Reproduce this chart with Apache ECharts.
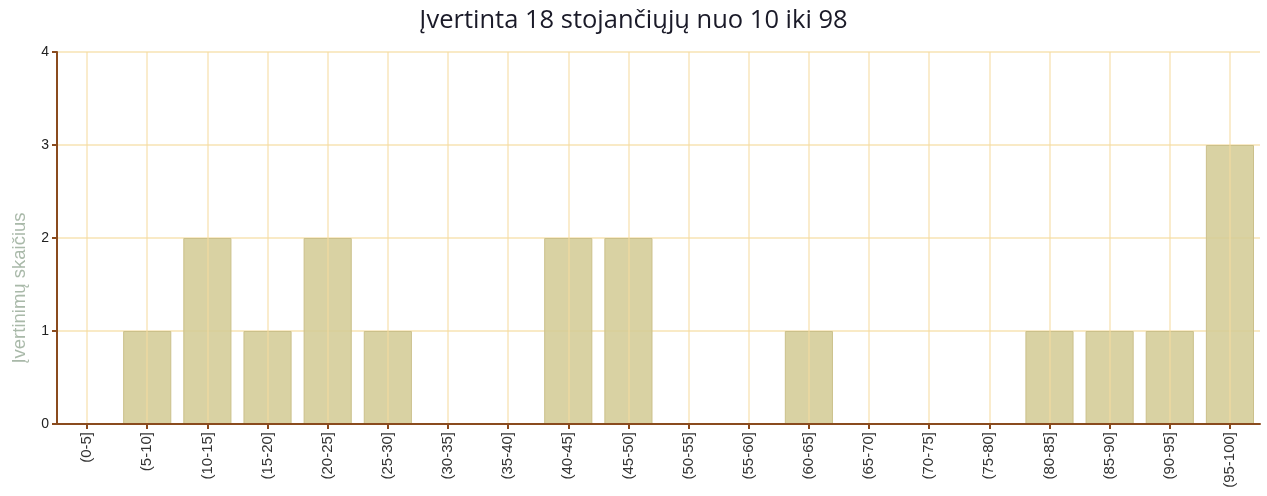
<!DOCTYPE html>
<html>
<head>
<meta charset="utf-8">
<script src="https://cdn.jsdelivr.net/npm/echarts@6/dist/echarts.min.js"></script>
<style>
  html, body { margin: 0; padding: 0; background: #fff; }
  #chart { width: 1267px; height: 496px; }
</style>
</head>
<body>
<div id="chart"></div>
<script>
const categories = ['(0-5]', '(5-10]', '(10-15]', '(15-20]', '(20-25]', '(25-30]', '(30-35]', '(35-40]',
  '(40-45]', '(45-50]', '(50-55]', '(55-60]', '(60-65]', '(65-70]', '(70-75]', '(75-80]',
  '(80-85]', '(85-90]', '(90-95]', '(95-100]'];
const counts = [0, 1, 2, 1, 2, 1, 0, 0, 2, 2, 0, 0, 1, 0, 0, 0, 1, 1, 1, 3];
const yTicks = [0, 1, 2, 3, 4];

const axisBrown = '#8a4b1e';
const gridYellow = '#f7e3b3';

const chart = echarts.init(document.getElementById('chart'));
chart.setOption({
  animation: false,
  title: {
    text: 'Įvertinta 18 stojančiųjų nuo 10 iki 98',
    left: 'center',
    top: 3,
    textStyle: { fontFamily: 'Open Sans', fontSize: 25.5, fontWeight: 'normal', color: '#1a1a28' }
  },
  grid: { left: 57, right: 7, top: 52, bottom: 72 },
  xAxis: {
    type: 'category',
    data: categories,
    z: 5,
    axisLine: { lineStyle: { color: axisBrown, width: 2 } },
    axisTick: { show: true, alignWithLabel: true, length: 5, lineStyle: { color: axisBrown, width: 2 } },
    // grid lines sit on the category centres, like the ticks
    splitLine: { show: true, alignWithLabel: true, lineStyle: { color: 'rgba(245,220,160,0.7)', width: 1.5 } },
    axisLabel: { rotate: 90, interval: 0, fontFamily: 'Liberation Sans', fontSize: 15, color: '#333', margin: 8 }
  },
  yAxis: {
    type: 'value',
    min: yTicks[0],
    max: yTicks[yTicks.length - 1],
    interval: 1,
    z: 1,
    name: 'Įvertinimų skaičius',
    nameLocation: 'middle',
    nameGap: 28,
    nameTextStyle: { fontFamily: 'Liberation Sans', fontSize: 18.5, color: '#a9b9a9', padding: [0, 100, 0, 0] },
    axisLine: { show: true, lineStyle: { color: axisBrown, width: 2 } },
    axisTick: { show: true, length: 5, lineStyle: { color: axisBrown, width: 2 } },
    splitLine: { lineStyle: { color: gridYellow, width: 1.5 } },
    axisLabel: { fontFamily: 'Liberation Sans', fontSize: 14, color: '#222', margin: 8 }
  },
  series: [{
    type: 'bar',
    data: counts,
    barCategoryGap: '20%',
    itemStyle: { color: 'rgba(212,204,150,0.88)', borderColor: '#cbc08a', borderWidth: 1 }
  }]
});
</script>
</body>
</html>
